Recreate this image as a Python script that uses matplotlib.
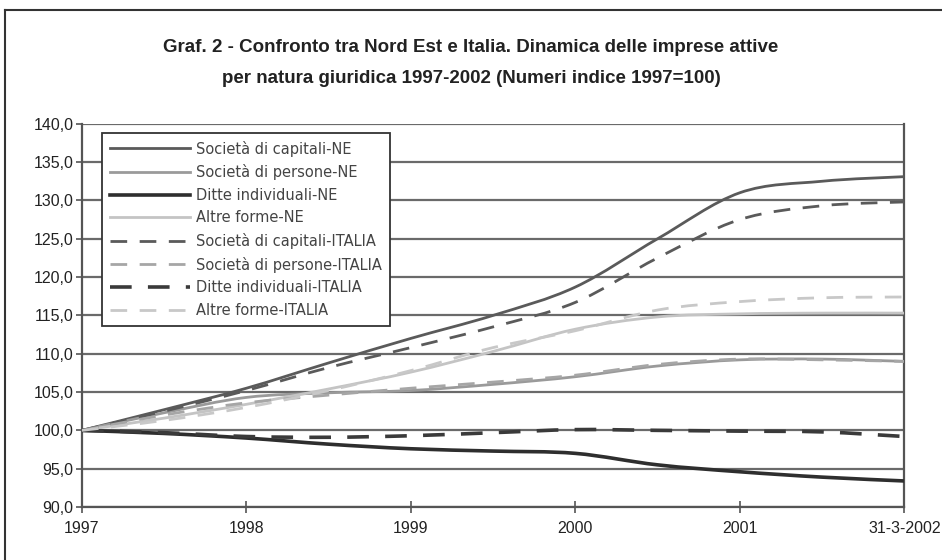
import numpy as np
import matplotlib
matplotlib.use("Agg")
import matplotlib.pyplot as plt
from matplotlib.path import Path
from matplotlib.patches import PathPatch
from matplotlib.lines import Line2D
from matplotlib.ticker import FuncFormatter

plt.rcParams['font.family'] = ['Liberation Sans', 'DejaVu Sans']

# category labels on the x axis
years = ["1997", "1998", "1999", "2000", "2001", "31-3-2002"]

# values read every half year (index 1997=100)
cap_ne = [100.0, 102.7, 105.5, 108.8, 112.0, 115.0, 118.7, 125.0, 131.0, 132.5, 133.1]
per_ne = [100.0, 102.3, 104.3, 104.9, 105.2, 106.0, 107.0, 108.4, 109.2, 109.3, 109.0]
dit_ne = [100.0, 99.6, 99.0, 98.2, 97.6, 97.3, 97.0, 95.5, 94.6, 93.9, 93.4]
alt_ne = [100.0, 101.6, 103.4, 105.4, 107.6, 110.3, 113.2, 114.8, 115.2, 115.3, 115.3]
cap_it = [100.0, 102.5, 105.2, 108.2, 110.8, 113.5, 116.7, 122.5, 127.5, 129.3, 129.8]
per_it = [100.0, 102.0, 103.6, 104.6, 105.5, 106.3, 107.2, 108.6, 109.3, 109.2, 109.0]
dit_it = [100.0, 99.7, 99.2, 99.1, 99.3, 99.7, 100.1, 100.0, 99.9, 99.8, 99.2]
alt_it = [100.0, 101.3, 103.0, 105.2, 107.8, 110.8, 113.0, 115.7, 116.8, 117.3, 117.4]

series = [
    ("Società di capitali-NE", cap_ne, "#5a5a5a", 2.0, "-"),
    ("Società di persone-NE", per_ne, "#9a9a9a", 2.0, "-"),
    ("Ditte individuali-NE", dit_ne, "#2e2e2e", 2.6, "-"),
    ("Altre forme-NE", alt_ne, "#c4c4c4", 2.0, "-"),
    ("Società di capitali-ITALIA", cap_it, "#5a5a5a", 2.0, "--"),
    ("Società di persone-ITALIA", per_it, "#a6a6a6", 2.0, "--"),
    ("Ditte individuali-ITALIA", dit_it, "#3a3a3a", 2.6, "--"),
    ("Altre forme-ITALIA", alt_it, "#c8c8c8", 2.0, "--"),
]


def smooth_path(x, y, tension=1 / 6):
    # bezier curve through the points, like a spreadsheet "smoothed line"
    x = np.asarray(x, float)
    y = np.asarray(y, float)
    pts = np.column_stack([x, y])
    verts = [pts[0]]
    codes = [Path.MOVETO]
    n = len(pts)
    for i in range(n - 1):
        p0 = pts[i - 1] if i > 0 else pts[i]
        p1 = pts[i]
        p2 = pts[i + 1]
        p3 = pts[i + 2] if i + 2 < n else pts[i + 1]
        c1 = p1 + (p2 - p0) * tension
        c2 = p2 - (p3 - p1) * tension
        verts += [c1, c2, p2]
        codes += [Path.CURVE4] * 3
    return Path(verts, codes)


fig = plt.figure(figsize=(9.42, 5.6), dpi=100)
ax = fig.add_axes([0.087, 0.0946, 0.873, 0.6844])

xs = np.arange(len(cap_ne)) / 2.0
handles = []
for label, vals, color, lw, ls in series:
    dashes = (6, 4.5) if ls == "--" else None
    patch = PathPatch(smooth_path(xs, vals), facecolor="none", edgecolor=color,
                      lw=lw, zorder=3, capstyle="butt")
    if dashes:
        patch.set_linestyle((0, dashes))
    ax.add_patch(patch)
    h = Line2D([], [], color=color, lw=lw, linestyle=(0, dashes) if dashes else "-")
    handles.append(h)

ax.set_xlim(0, 5)
ax.set_ylim(90, 140)
ax.set_yticks(np.arange(90, 141, 5))
ax.yaxis.set_major_formatter(FuncFormatter(lambda v, p: f"{v:.1f}".replace(".", ",")))
ax.set_xticks(range(len(years)))
ax.set_xticklabels(years)
ax.grid(axis="y", color="#6a6a6a", lw=1.6, zorder=1)
ax.set_axisbelow(True)
for side in ["left", "right", "bottom", "top"]:
    ax.spines[side].set_color("#555555")
    ax.spines[side].set_linewidth(1.6)
ax.spines["top"].set_visible(False)
ax.tick_params(axis="y", direction="out", length=4, width=1.2, colors="#555555",
               labelcolor="#222222", labelsize=11.5, pad=2)
ax.tick_params(axis="x", direction="inout", length=8, width=1.2, colors="#555555",
               labelcolor="#222222", labelsize=11.5, pad=6)

leg = ax.legend(handles, [s[0] for s in series], loc="upper left",
                bbox_to_anchor=(0.024, 0.977), frameon=True, fancybox=False,
                framealpha=1, edgecolor="#333333", fontsize=10.5, handlelength=5.5,
                handletextpad=0.4, labelspacing=0.52, borderpad=0.55,
                borderaxespad=0)
leg.get_frame().set_linewidth(1.3)
for t in leg.get_texts():
    t.set_color("#444444")
    t.set_family(["DejaVu Sans"])

fig.text(0.5, 0.915, "Graf. 2 - Confronto tra Nord Est e Italia. Dinamica delle imprese attive",
         ha="center", va="center", fontsize=13.5, fontweight="bold", color="#222222")
fig.text(0.5, 0.86, "per natura giuridica 1997-2002 (Numeri indice 1997=100)",
         ha="center", va="center", fontsize=13.5, fontweight="bold", color="#222222")

# outer frame of the figure
fig.add_artist(Line2D([5 / 942, 1.0], [1 - 10 / 560, 1 - 10 / 560], color="#333333", lw=1.5))
fig.add_artist(Line2D([5 / 942, 5 / 942], [0, 1 - 10 / 560], color="#333333", lw=1.5))

fig.savefig("out.png", dpi=100)
